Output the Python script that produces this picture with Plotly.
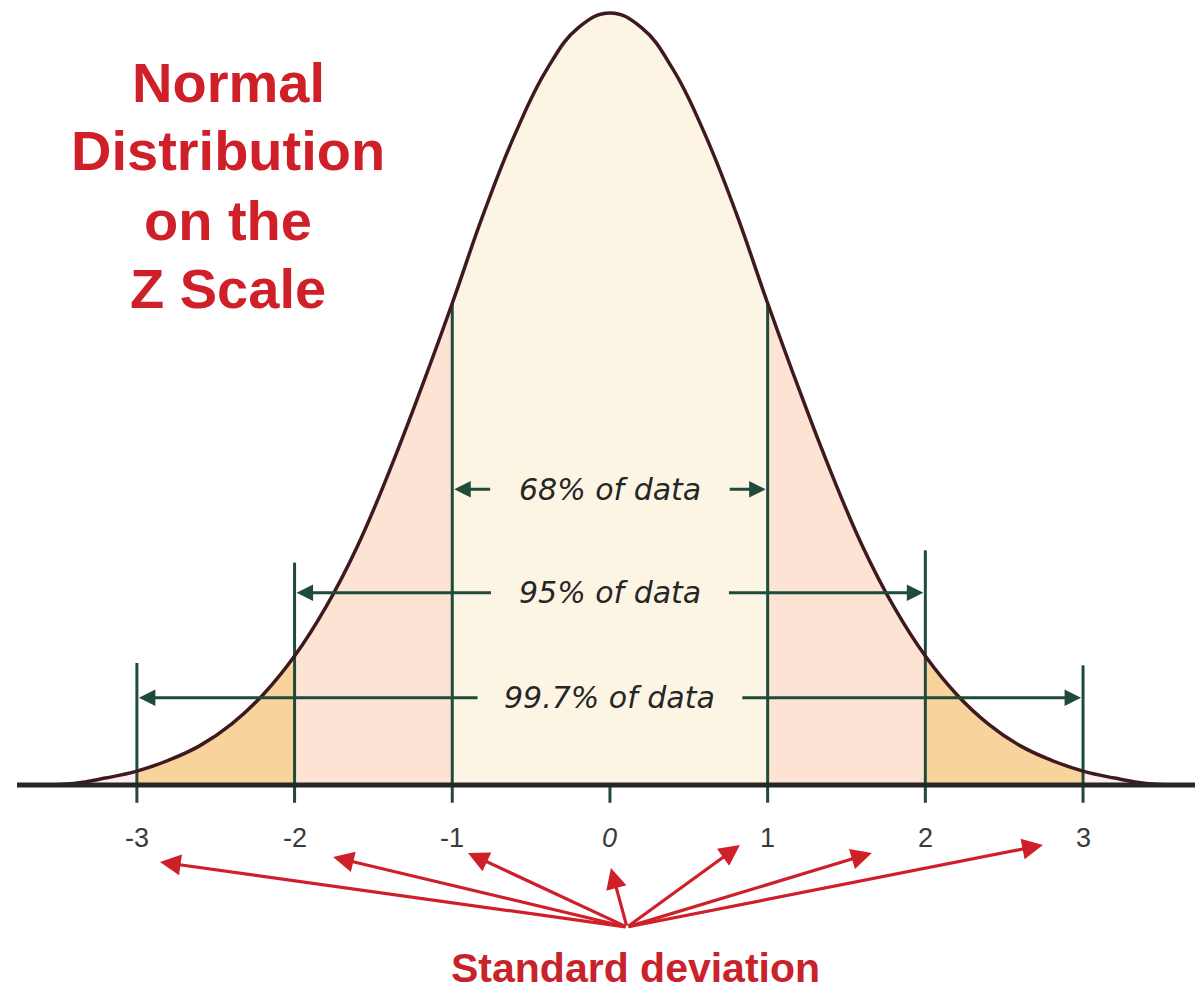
import plotly.graph_objects as go

# z positions (standard deviations) and relative curve height
z_grid = [-3.6, -3.4, -3.2, -3.0, -2.8, -2.6, -2.4, -2.2, -2.0, -1.8, -1.6, -1.4,
          -1.2, -1.0, -0.8, -0.6, -0.4, -0.2, 0.0, 0.2, 0.4, 0.6, 0.8, 1.0,
          1.2, 1.4, 1.6, 1.8, 2.0, 2.2, 2.4, 2.6, 2.8, 3.0, 3.2, 3.4, 3.6]
density = [0.0, 0.002, 0.009, 0.018, 0.032, 0.051, 0.079, 0.117, 0.167, 0.231, 0.310, 0.406,
           0.512, 0.624, 0.741, 0.844, 0.927, 0.981, 1.0, 0.981, 0.927, 0.844, 0.741, 0.624,
           0.512, 0.406, 0.310, 0.231, 0.167, 0.117, 0.079, 0.051, 0.032, 0.018, 0.009, 0.002, 0.0]

# boundary lines at +-1, +-2, +-3 sd and how high each one reaches
sd_lines = [-3, -2, -1, 1, 2, 3]
sd_line_tops = [0.158, 0.288, 0.624, 0.624, 0.304, 0.155]

tick_values = [-3, -2, -1, 0, 1, 2, 3]
tick_labels = ["-3", "-2", "-1", "<i>0</i>", "1", "2", "3"]

# coverage brackets: half-width in sd, label, height of the bracket line
bracket_sd = [1, 2, 3]
bracket_labels = ["68% of data", "95% of data", "99.7% of data"]
bracket_heights = [0.383, 0.249, 0.113]
bracket_gaps = [0.75, 0.745, 0.83]

title_lines = ["Normal", "Distribution", "on the", "Z Scale"]

# band edges and fill colours (tail, 2-3 sd, 1-2 sd, centre)
bands = [(-3.6, -3.0), (-3.0, -2.0), (-2.0, -1.0), (-1.0, 1.0),
         (1.0, 2.0), (2.0, 3.0), (3.0, 3.6)]
band_colors = ["#fdeeec", "#f9d39c", "#fce3d3", "#fdf5e3",
               "#fce3d3", "#f9d39c", "#fdeeec"]

CURVE = "#3e1a20"
GREEN = "#1f4b3b"
RED = "#cf1f29"
TEXT = "#262626"

X_RANGE = [-3.868, 3.710]
Y_RANGE = [-0.2720, 1.0168]
SMOOTH = 1.2

fig = go.Figure()

for (lo, hi), col in zip(bands, band_colors):
    xs = [z for z in z_grid if lo - 1e-9 <= z <= hi + 1e-9]
    ys = [d for z, d in zip(z_grid, density) if lo - 1e-9 <= z <= hi + 1e-9]
    fig.add_trace(go.Scatter(
        x=xs, y=ys, mode="lines", fill="tozeroy", fillcolor=col,
        line={"width": 0, "shape": "spline", "smoothing": SMOOTH},
        hoverinfo="skip", showlegend=False,
    ))

# green verticals (with a short tick below the baseline) and the 0 tick
vx, vy = [], []
for z, top in zip(sd_lines, sd_line_tops):
    vx += [z, z, None]
    vy += [top, -0.023, None]
vx += [0, 0, None]
vy += [0, -0.023, None]
fig.add_trace(go.Scatter(
    x=vx, y=vy, mode="lines", line={"color": GREEN, "width": 3},
    hoverinfo="skip", showlegend=False,
))

fig.add_trace(go.Scatter(
    x=z_grid, y=density, mode="lines",
    line={"color": CURVE, "width": 3.5, "shape": "spline", "smoothing": SMOOTH},
    hoverinfo="skip", showlegend=False,
))

fig.add_shape(type="line", x0=-3.76, x1=X_RANGE[1], y0=0, y1=0,
              line={"color": "#262626", "width": 5}, layer="above")

annotations = []
for sd, label, h, gap in zip(bracket_sd, bracket_labels, bracket_heights, bracket_gaps):
    annotations.append(dict(
        x=0, y=h, xref="x", yref="y", text=f"<i>{label}</i>", showarrow=False,
        font={"family": "DejaVu Sans", "size": 30, "color": TEXT},
    ))
    for sign in (-1, 1):
        annotations.append(dict(
            x=sign * sd, y=h, ax=sign * gap, ay=h, xref="x", yref="y",
            axref="x", ayref="y", text="", showarrow=True, arrowhead=2,
            arrowsize=1.1, arrowwidth=3, arrowcolor=GREEN, standoff=2,
        ))

for v, t in zip(tick_values, tick_labels):
    annotations.append(dict(
        x=v, y=-0.0686, xref="x", yref="y", text=t, showarrow=False,
        font={"family": "Liberation Sans", "size": 27, "color": "#3a3a3a"},
    ))

# red arrows from the label up to the sd marks
arrow_tail = (0.108, -0.184)
arrow_tips = [(-2.854, -0.0997), (-1.756, -0.0933), (-0.900, -0.0881), (0.006, -0.1075),
              (0.824, -0.0777), (1.661, -0.0881), (2.746, -0.0777)]
for tx, ty in arrow_tips:
    annotations.append(dict(
        x=tx, y=ty, ax=arrow_tail[0], ay=arrow_tail[1], xref="x", yref="y",
        axref="x", ayref="y", text="", showarrow=True, arrowhead=2,
        arrowsize=1.3, arrowwidth=3.2, arrowcolor=RED,
    ))

title_y = [83, 150, 220, 288]
for line, py in zip(title_lines, title_y):
    annotations.append(dict(
        x=228 / 1195, y=1 - py / 995, xref="paper", yref="paper", text=f"<b>{line}</b>",
        showarrow=False, xanchor="center", yanchor="middle",
        font={"family": "Liberation Sans", "size": 56, "color": RED},
    ))

annotations.append(dict(
    x=635 / 1195, y=1 - 968 / 995, xref="paper", yref="paper",
    text="<b>Standard deviation</b>", showarrow=False,
    xanchor="center", yanchor="middle",
    font={"family": "Liberation Sans", "size": 41, "color": "#c8222b"},
))

fig.update_layout(
    width=1195, height=995, autosize=False,
    margin={"l": 0, "r": 0, "t": 0, "b": 0},
    paper_bgcolor="white", plot_bgcolor="white",
    xaxis={"range": X_RANGE, "visible": False, "fixedrange": True},
    yaxis={"range": Y_RANGE, "visible": False, "fixedrange": True},
    annotations=annotations,
    showlegend=False,
)

fig.write_html("out.html", config={"displayModeBar": False},
               post_script="document.body.style.margin='0';")
